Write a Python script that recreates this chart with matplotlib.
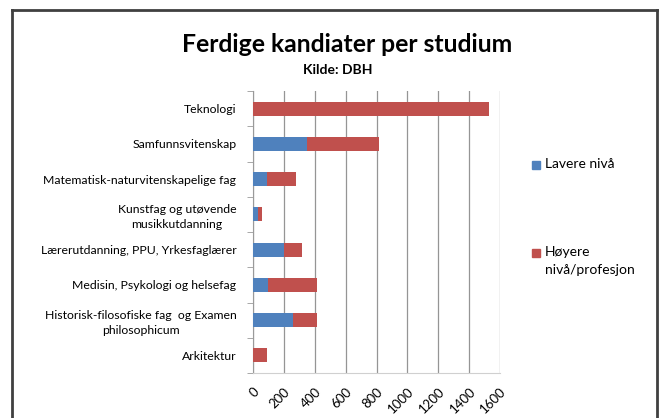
import matplotlib
matplotlib.use("Agg")
import matplotlib.pyplot as plt
from matplotlib.lines import Line2D
from matplotlib.patches import Rectangle

categories = [
    "Teknologi",
    "Samfunnsvitenskap",
    "Matematisk-naturvitenskapelige fag",
    "Kunstfag og utøvende\nmusikkutdanning",
    "Lærerutdanning, PPU, Yrkesfaglærer",
    "Medisin, Psykologi og helsefag",
    "Historisk-filosofiske fag  og Examen\nphilosophicum",
    "Arkitektur",
]
lavere = [0, 350, 90, 32, 200, 95, 257, 0]
hoyere = [1530, 465, 188, 24, 117, 321, 159, 88]
series_names = ["Lavere nivå", "Høyere\nnivå/profesjon"]
xticks = [0, 200, 400, 600, 800, 1000, 1200, 1400, 1600]

blue = "#4F81BD"
red = "#C0504D"
font = "Lato"

W, H = 662, 418
fig = plt.figure(figsize=(W / 100, H / 100), dpi=100)
fig.patch.set_facecolor("white")

ax = fig.add_axes([253 / W, 1 - 373 / H, (500 - 253) / W, (373 - 91) / H])
y = list(range(len(categories)))
ax.barh(y, lavere, height=0.4, color=blue, zorder=3)
ax.barh(y, hoyere, left=lavere, height=0.4, color=red, zorder=3)

ax.set_xlim(0, 1600)
ax.set_ylim(len(categories) - 0.5, -0.5)
ax.set_xticks(xticks)
ax.set_xticklabels([str(t) for t in xticks], rotation=45, ha="right",
                   rotation_mode="anchor", fontsize=9.5, family=font)
ax.set_yticks(y)
ax.set_yticklabels(categories, fontsize=8.8, family=font, ha="right",
                   multialignment="center", linespacing=1.45)
ax.set_yticks([i - 0.5 for i in range(len(categories) + 1)], minor=True)
ax.tick_params(axis="y", which="major", length=0, pad=12)
ax.tick_params(axis="y", which="minor", length=4, color="#9a9a9a")
ax.tick_params(axis="x", length=0, pad=9)
ax.grid(axis="x", color="#959595", linewidth=0.9, zorder=0)
for s in ["top", "right"]:
    ax.spines[s].set_visible(False)
ax.spines["left"].set_color("#9a9a9a")
ax.spines["bottom"].set_color("#d0d0d0")

fig.text(347 / W, 1 - 44 / H, "Ferdige kandiater per studium", ha="center",
         va="center", fontsize=17.8, fontweight="bold", family=font)
fig.text(338 / W, 1 - 70 / H, "Kilde: DBH", ha="center", va="center",
         fontsize=10, fontweight="bold", family=font)

# legend
for (yy, name, col) in [(165, series_names[0], blue), (253, series_names[1], red)]:
    fig.add_artist(Rectangle((532 / W, 1 - (yy + 4) / H), 8 / W, 8 / H,
                             transform=fig.transFigure, color=col))
    fig.text(545 / W, 1 - (yy - 7) / H, name, ha="left", va="top",
             fontsize=10, family=font, linespacing=1.55)

# outer frame
kw = dict(color="#404040", linewidth=2, transform=fig.transFigure)
fig.add_artist(Line2D([12 / W, 657 / W], [1 - 10 / H, 1 - 10 / H], **kw))
fig.add_artist(Line2D([12 / W, 12 / W], [1 - 10 / H, 0], **kw))
fig.add_artist(Line2D([657 / W, 657 / W], [1 - 10 / H, 0], **kw))

fig.savefig("out.png", dpi=100)
